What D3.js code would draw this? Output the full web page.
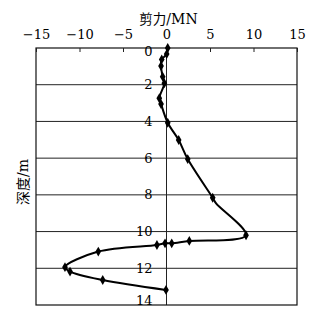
<html><head>
<script src="https://d3js.org/d3.v7.min.js"></script>
<style>
  body { margin: 0; background: #fff; }
</style>
</head>
<body>
<svg id="chart" width="320" height="319"></svg>
<script>
  // values
  let depth = [0, 0.33, 0.62, 0.98, 1.56, 1.92, 2.74, 3.05, 4.07, 5.01, 6.05, 8.16, 8.46, 10.2, 10.51, 10.64, 10.64, 10.73, 11.09, 11.94, 12.18, 12.64, 13.18];
  let shear = [0.14, 0.02, -0.55, -0.63, -0.44, -0.25, -0.83, -0.63, 0.14, 1.4, 2.44, 5.31, 5.7, 9.14, 2.62, 0.6, -0.17, -1.1, -7.84, -11.67, -11.09, -7.33, -0.06];
  let marked = [1, 1, 1, 1, 1, 1, 1, 1, 1, 1, 1, 1, 0, 1, 1, 1, 1, 1, 1, 1, 1, 1, 1];
  let xTicks = [-15, -10, -5, 0, 5, 10, 15];
  let yTicks = [0, 2, 4, 6, 8, 10, 12, 14];

  let serif = "DejaVu Serif";
  let cjk = "Noto Sans CJK SC";

  let svg = d3.select("#chart");
  let margin = { top: 48, left: 36, right: 23, bottom: 14 };
  let w = 320 - margin.left - margin.right;
  let h = 319 - margin.top - margin.bottom;

  let x = d3.scaleLinear().domain([-15, 15]).range([0, w]);
  let y = d3.scaleLinear().domain([0, 14]).range([0, h]);

  let g = svg.append("g").attr("transform", "translate(" + margin.left + "," + margin.top + ")");

  // horizontal grid lines
  g.selectAll(".grid").data(yTicks.slice(1, -1)).enter().append("line")
    .attr("x1", 0).attr("x2", w)
    .attr("y1", d => y(d)).attr("y2", d => y(d))
    .attr("stroke", "#222").attr("stroke-width", 1);

  // zero line
  g.append("line").attr("x1", x(0)).attr("x2", x(0)).attr("y1", 0).attr("y2", h)
    .attr("stroke", "#222").attr("stroke-width", 1);

  // box
  g.append("rect").attr("width", w).attr("height", h)
    .attr("fill", "none").attr("stroke", "#111").attr("stroke-width", 1.2);

  // top axis
  let xAxis = d3.axisTop(x).tickValues(xTicks).tickSize(-4).tickPadding(9);
  let ax = g.append("g").call(xAxis).attr("font-family", serif).attr("font-size", 13);
  ax.select(".domain").remove();
  ax.selectAll("line").attr("stroke", "#222");
  ax.selectAll("text").attr("fill", "#000");

  // depth labels beside the zero line (end ones nudged inside the box)
  g.selectAll(".ylbl").data(yTicks).enter().append("text")
    .attr("font-family", serif).attr("font-size", 13).attr("fill", "#000")
    .attr("x", x(0) - 14).attr("y", d => y(d) + (d === 0 ? 3 : d === 14 ? -5 : 0))
    .attr("dy", "0.35em").attr("text-anchor", "end")
    .text(d => d);

  // shear curve
  let pts = depth.map((d, i) => ({ d: d, v: shear[i], m: marked[i] }));
  let line = d3.line().x(p => x(p.v)).y(p => y(p.d)).curve(d3.curveCatmullRom.alpha(0.5));
  g.append("path").datum(pts).attr("d", line)
    .attr("fill", "none").attr("stroke", "#000").attr("stroke-width", 2);

  g.selectAll(".pt").data(pts.filter(p => p.m)).enter().append("path")
    .attr("d", d3.symbol().type(d3.symbolDiamond).size(28))
    .attr("transform", p => "translate(" + x(p.v) + "," + y(p.d) + ")")
    .attr("fill", "#000");

  // titles
  let xt = svg.append("text").attr("x", margin.left + x(0) + 2).attr("y", 24)
    .attr("text-anchor", "middle").attr("font-family", serif).attr("font-size", 14).attr("fill", "#000");
  xt.append("tspan").attr("font-family", cjk).attr("font-size", 13.5).text("剪力");
  xt.append("tspan").text("/MN");

  let yt = svg.append("text").attr("transform", "translate(28,182) rotate(-90)")
    .attr("text-anchor", "middle").attr("font-family", serif).attr("font-size", 14).attr("fill", "#000");
  yt.append("tspan").attr("font-family", cjk).attr("font-size", 14).text("深度");
  yt.append("tspan").text("/m");
</script>
</body>
</html>
